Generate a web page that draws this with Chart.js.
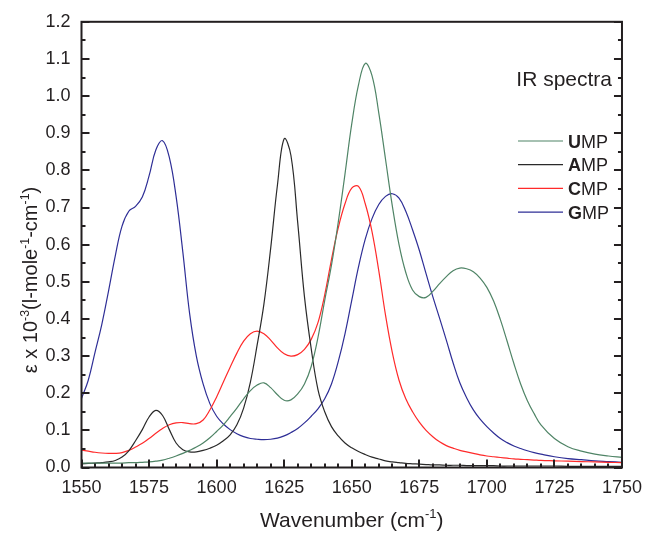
<!DOCTYPE html>
<html lang="en">
  <head>
    <meta charset="UTF-8" />
    <title>IR spectra</title>
    <script src="https://cdn.jsdelivr.net/npm/chart.js"></script>
    <style>
      html, body { margin: 0; padding: 0; background: #fff; }
      canvas { display: block; }
    </style>
  </head>
  <body>
    <canvas id="irChart" width="652" height="536"></canvas>

    <script>
      const FONT = '"Liberation Sans", Arial, sans-serif';
      const INK = "#231f20";

      // wavenumber axis (cm-1), shared by all four spectra
      const wavenumbers = [
        1550, 1552.5, 1555, 1557.5, 1560, 1562.5, 1565, 1567.5, 1570, 1572.5,
        1575, 1577.5, 1580, 1582.5, 1585, 1587.5, 1590, 1592.5, 1595, 1597.5,
        1600, 1602.5, 1605, 1607.5, 1610, 1612.5, 1615, 1617.5, 1620, 1622.5,
        1625, 1627.5, 1630, 1632.5, 1635, 1637.5, 1640, 1642.5, 1645, 1647.5,
        1650, 1652.5, 1655, 1657.5, 1660, 1662.5, 1665, 1667.5, 1670, 1672.5,
        1675, 1677.5, 1680, 1682.5, 1685, 1687.5, 1690, 1692.5, 1695, 1697.5,
        1700, 1702.5, 1705, 1707.5, 1710, 1712.5, 1715, 1717.5, 1720,
        1725, 1730, 1735, 1740, 1745, 1750
      ];

      const ump = [
        0.012, 0.012, 0.012, 0.012, 0.012, 0.012, 0.012, 0.013, 0.013, 0.014,
        0.015, 0.017, 0.020, 0.025, 0.031, 0.038, 0.046, 0.055, 0.066, 0.080,
        0.097, 0.115, 0.137, 0.160, 0.185, 0.207, 0.222, 0.228, 0.215, 0.196,
        0.181, 0.182, 0.198, 0.225, 0.272, 0.350, 0.450, 0.545, 0.660, 0.790,
        0.925, 1.030, 1.088, 1.055, 0.955, 0.830, 0.705, 0.600, 0.525, 0.478,
        0.460, 0.458, 0.474, 0.495, 0.514, 0.530, 0.537, 0.535, 0.527, 0.510,
        0.485, 0.448, 0.398, 0.340, 0.280, 0.225, 0.180, 0.145, 0.115,
        0.078, 0.056, 0.044, 0.036, 0.031, 0.027
      ];

      const amp = [
        0.010, 0.011, 0.012, 0.013, 0.015, 0.019, 0.028, 0.045, 0.072, 0.102,
        0.136, 0.154, 0.140, 0.102, 0.066, 0.048, 0.042, 0.042, 0.046, 0.052,
        0.060, 0.072, 0.088, 0.115, 0.160, 0.230, 0.330, 0.440, 0.590, 0.760,
        0.885, 0.840, 0.660, 0.460, 0.320, 0.210, 0.150, 0.110, 0.085, 0.066,
        0.053, 0.043, 0.035, 0.028, 0.023, 0.018, 0.015, 0.013, 0.011, 0.010,
        0.009, 0.008, 0.007, 0.007, 0.006, 0.006, 0.006, 0.005, 0.005, 0.005,
        0.005, 0.005, 0.004, 0.004, 0.004, 0.004, 0.004, 0.004, 0.004,
        0.004, 0.003, 0.003, 0.003, 0.003, 0.003
      ];

      const cmp = [
        0.047, 0.044, 0.041, 0.039, 0.038, 0.038, 0.040, 0.046, 0.055, 0.065,
        0.078, 0.092, 0.105, 0.115, 0.120, 0.121, 0.118, 0.118, 0.128, 0.155,
        0.190, 0.230, 0.270, 0.308, 0.340, 0.360, 0.367, 0.360, 0.343, 0.322,
        0.306, 0.300, 0.304, 0.318, 0.345, 0.390, 0.465, 0.560, 0.645, 0.710,
        0.752, 0.757, 0.710, 0.635, 0.530, 0.410, 0.310, 0.235, 0.185, 0.150,
        0.122, 0.100, 0.083, 0.069, 0.059, 0.052, 0.046, 0.042, 0.038, 0.034,
        0.031, 0.029, 0.027, 0.025, 0.023, 0.022, 0.021, 0.020, 0.019,
        0.018, 0.017, 0.016, 0.015, 0.014, 0.013
      ];

      const gmp = [
        0.186, 0.235, 0.310, 0.385, 0.475, 0.570, 0.650, 0.690, 0.703, 0.728,
        0.785, 0.855, 0.880, 0.835, 0.730, 0.580, 0.415, 0.300, 0.225, 0.172,
        0.138, 0.117, 0.102, 0.091, 0.083, 0.078, 0.076, 0.075, 0.076, 0.079,
        0.085, 0.094, 0.105, 0.120, 0.138, 0.158, 0.185, 0.225, 0.285, 0.360,
        0.450, 0.540, 0.615, 0.670, 0.708, 0.730, 0.737, 0.725, 0.690, 0.640,
        0.585, 0.522, 0.460, 0.402, 0.343, 0.282, 0.228, 0.188, 0.155, 0.130,
        0.110, 0.093, 0.078, 0.067, 0.058, 0.051, 0.045, 0.040, 0.036,
        0.029, 0.024, 0.021, 0.018, 0.016, 0.014
      ];

      const seriesNames = ["UMP", "AMP", "CMP", "GMP"];
      const seriesValues = [ump, amp, cmp, gmp];
      const seriesColors = ["#4f8466", "#2a2a2a", "#ff2a2a", "#2e2e96"];

      const datasets = seriesNames.map((name, i) => ({
        label: name,
        data: wavenumbers.map((w, j) => ({ x: w, y: seriesValues[i][j] })),
        borderColor: seriesColors[i],
        borderWidth: 1.2,
        pointRadius: 0,
        fill: false,
        tension: 0.4
      }));

      // text with superscripts: parts = [{t, sup, bold}]
      function richWidth(ctx, parts, size) {
        let w = 0;
        parts.forEach(p => {
          ctx.font = `${p.bold ? "bold " : ""}${p.sup ? size * 0.62 : size}px ${FONT}`;
          w += ctx.measureText(p.t).width;
        });
        return w;
      }
      function drawRich(ctx, parts, x, y, size) {
        let cx = x;
        parts.forEach(p => {
          ctx.font = `${p.bold ? "bold " : ""}${p.sup ? size * 0.62 : size}px ${FONT}`;
          ctx.fillText(p.t, cx, p.sup ? y - size * 0.42 : y);
          cx += ctx.measureText(p.t).width;
        });
      }

      const framePlugin = {
        id: "frame",
        afterDatasetsDraw(chart) {
          const { ctx, chartArea: a, scales } = chart;
          const x = scales.x, y = scales.y;
          ctx.save();
          ctx.strokeStyle = INK;
          ctx.lineWidth = 2;
          ctx.strokeRect(a.left, a.top, a.right - a.left, a.bottom - a.top);
          ctx.beginPath();
          for (let i = 0; i <= 24; i++) {
            const py = Math.round(y.getPixelForValue(i * 0.05));
            const len = i % 2 === 0 ? 8 : 4;
            ctx.moveTo(a.left, py); ctx.lineTo(a.left + len, py);
            ctx.moveTo(a.right, py); ctx.lineTo(a.right - len, py);
          }
          for (let w = 1550; w <= 1750; w += 5) {
            const px = Math.round(x.getPixelForValue(w));
            const len = (w - 1550) % 25 === 0 ? 8 : 4;
            ctx.moveTo(px, a.bottom); ctx.lineTo(px, a.bottom - len);
          }
          ctx.stroke();
          ctx.restore();
        },
        afterDraw(chart) {
          const { ctx, chartArea: a } = chart;
          ctx.save();
          ctx.fillStyle = INK;
          ctx.textBaseline = "alphabetic";

          // x axis title
          const xt = [{ t: "Wavenumber (cm" }, { t: "-1", sup: true }, { t: ")" }];
          const xs = 21;
          drawRich(ctx, xt, (a.left + a.right) / 2 - richWidth(ctx, xt, xs) / 2, 527, xs);

          // y axis title
          const yt = [
            { t: "\u03b5 x 10" }, { t: "-3", sup: true }, { t: "(l-mole" },
            { t: "-1", sup: true }, { t: "-cm" }, { t: "-1", sup: true }, { t: ")" }
          ];
          const ys = 20;
          ctx.save();
          ctx.translate(37, 280);
          ctx.rotate(-Math.PI / 2);
          drawRich(ctx, yt, -richWidth(ctx, yt, ys) / 2, 0, ys);
          ctx.restore();

          // panel title
          ctx.font = `21px ${FONT}`;
          ctx.textAlign = "right";
          ctx.fillText("IR spectra", 612, 86);
          ctx.textAlign = "left";

          // legend
          seriesNames.forEach((name, i) => {
            const ly = 141 + i * 23.7;
            ctx.strokeStyle = seriesColors[i];
            ctx.lineWidth = 1.2;
            ctx.beginPath();
            ctx.moveTo(518, ly); ctx.lineTo(563, ly);
            ctx.stroke();
            drawRich(ctx, [{ t: name[0], bold: true }, { t: name.slice(1) }], 568, ly + 6.5, 18);
          });
          ctx.restore();
        }
      };

      new Chart(document.getElementById("irChart"), {
        type: "line",
        data: { datasets },
        options: {
          responsive: false,
          animation: false,
          devicePixelRatio: 1,
          layout: { padding: { left: 0, right: 20, top: 21, bottom: 0 } },
          plugins: { legend: { display: false }, tooltip: { enabled: false } },
          scales: {
            x: {
              type: "linear",
              min: 1550,
              max: 1750,
              grid: { display: false, drawTicks: false },
              border: { display: false },
              ticks: {
                stepSize: 25,
                autoSkip: false,
                maxRotation: 0,
                padding: 10,
                color: INK,
                font: { family: FONT, size: 18 },
                callback: v => String(v)
              },
              afterFit: s => { s.height = 68.5; }
            },
            y: {
              min: 0,
              max: 1.2,
              grid: { display: false, drawTicks: false },
              border: { display: false },
              ticks: {
                stepSize: 0.1,
                padding: 11,
                color: INK,
                font: { family: FONT, size: 18 },
                callback: v => v.toFixed(1)
              },
              afterFit: s => { s.width = 81.5; }
            }
          }
        },
        plugins: [framePlugin]
      });
    </script>
  </body>
</html>
